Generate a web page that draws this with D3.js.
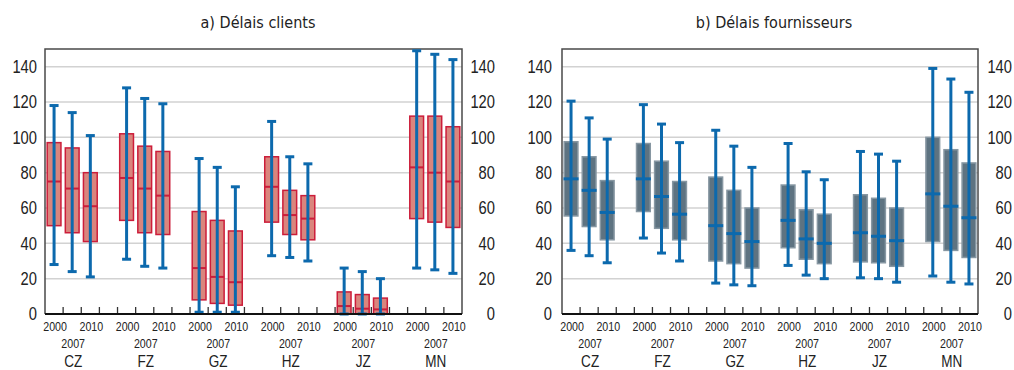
<!DOCTYPE html>
<html>
<head>
<meta charset="utf-8">
<script src="https://d3js.org/d3.v7.min.js"></script>
<style>
	body { margin: 0; background: #fff; }
	svg text { font-family: "Liberation Sans", Arial, sans-serif; fill: #222; }
	svg text.title { font-family: "DejaVu Sans Condensed", "DejaVu Sans", sans-serif; font-stretch: condensed; }
	.grid line { stroke: #d2d2d2; stroke-width: 1.5px; }
	.frame { fill: none; stroke: #4a4a4a; stroke-width: 1.5px; }
</style>
</head>
<body>
<svg width="1014" height="370"></svg>
<script>
var groups = ["CZ", "FZ", "GZ", "HZ", "JZ", "MN"];
var years = ["2000", "2007", "2010"];
var yTicks = [0, 20, 40, 60, 80, 100, 120, 140];

// a) Délais clients : min, 1er quartile, médiane, 3e quartile, max
var clientsLow  = [28, 24, 21,  31, 27, 26,  1, 1, 1,  33, 32, 30,  0, 0, 0,  26, 25, 23];
var clientsQ1   = [50, 46, 41,  53, 46, 45,  8, 6, 5,  52, 45, 42,  0, 0, 0,  54, 52, 49];
var clientsMed  = [75, 71, 61,  77, 71, 67,  26, 21, 18,  72, 56, 54,  4.5, 3, 2.6,  83, 80, 75];
var clientsQ3   = [97, 94, 80,  102, 95, 92,  58, 53, 47,  89, 70, 67,  12.5, 11, 9,  112, 112, 106];
var clientsHigh = [118, 114, 101,  128, 122, 119,  88, 83, 72,  109, 89, 85,  26, 24, 20,  149, 147, 144];

// b) Délais fournisseurs
var suppLow  = [36, 33, 29,  43, 34.5, 30,  17.5, 16.5, 16,  27.5, 22, 20,  20.5, 20, 18,  21.5, 18, 17];
var suppQ1   = [55.5, 49.5, 42,  58, 48.5, 42,  30, 28.5, 26,  37.5, 31, 28.5,  29.5, 29, 27,  41, 36, 32];
var suppMed  = [76.5, 70, 57.5,  76.5, 66.5, 56.5,  50, 45.5, 41,  53, 42.5, 40,  46, 44, 41.5,  68, 61, 54.5];
var suppQ3   = [97.5, 89, 75.5,  96.5, 86.5, 75,  77.5, 70, 60,  73, 59, 56.5,  67.5, 65.5, 60,  100, 93, 85.5];
var suppHigh = [120.5, 111, 99,  118.5, 107.5, 97,  104, 95, 83,  96.5, 80.5, 76,  92, 90.5, 86.5,  139, 133, 125.5];

var svg = d3.select("svg");

// slots : 3 années par zone + un vide entre les zones
var slots = [];
groups.forEach(function(g, i) {
	years.forEach(function(y) { slots.push(g + "-" + y); });
	if (i < groups.length - 1) slots.push(g + "-gap");
});

// texte étroit (Arial resserré façon "Narrow")
function narrow(parent, x, y, txt, size, anchor, dy) {
	return parent.append("g")
		.attr("transform", "translate(" + x + "," + y + ") scale(0.82,1)")
		.append("text")
		.attr("text-anchor", anchor || "middle")
		.attr("dy", dy || null)
		.style("font-size", size + "px")
		.text(txt);
}

function panel(opts) {
	var left = opts.left, right = opts.right, top = 49, bottom = 314;
	var x = d3.scaleBand().domain(slots).range([left, right]).padding(0);
	var y = d3.scaleLinear().domain([0, 150]).range([bottom, top]);
	var bw = x.bandwidth() * 0.76;
	var g = svg.append("g");

	// grille
	g.append("g").attr("class", "grid")
		.selectAll("line").data(yTicks.slice(1)).enter().append("line")
		.attr("x1", left).attr("x2", right)
		.attr("y1", function(d) { return y(d); }).attr("y2", function(d) { return y(d); });

	// cadre
	g.append("path").attr("class", "frame")
		.attr("d", "M" + left + "," + bottom + "V" + top + "H" + right + "V" + bottom);

	// petites graduations entre les colonnes
	g.selectAll(".tick").data(slots.slice(1)).enter().append("line")
		.attr("x1", function(d) { return x(d); }).attr("x2", function(d) { return x(d); })
		.attr("y1", bottom).attr("y2", bottom - 7)
		.attr("stroke", "#333").attr("stroke-width", 1.3);

	var data = [];
	groups.forEach(function(gr, i) {
		years.forEach(function(yr, j) {
			var k = i * 3 + j;
			data.push({ key: gr + "-" + yr, low: opts.low[k], q1: opts.q1[k], med: opts.med[k], q3: opts.q3[k], high: opts.high[k] });
		});
	});

	var item = g.selectAll(".item").data(data).enter().append("g")
		.attr("transform", function(d) { return "translate(" + (x(d.key) + x.bandwidth() / 2) + ",0)"; });

	item.append("rect")
		.attr("x", -bw / 2).attr("width", bw)
		.attr("y", function(d) { return y(d.q3); })
		.attr("height", function(d) { return y(d.q1) - y(d.q3); })
		.attr("fill", opts.boxFill).attr("stroke", opts.boxStroke).attr("stroke-width", 1.5);

	function median(sel) {
		sel.append("line")
			.attr("x1", -opts.medW / 2).attr("x2", opts.medW / 2)
			.attr("y1", function(d) { return y(d.med); }).attr("y2", function(d) { return y(d.med); })
			.attr("stroke", opts.medColor).attr("stroke-width", opts.medWidth);
	}
	if (!opts.medianOnTop) median(item);

	var blue = "#0c69ad";
	item.append("line")
		.attr("y1", function(d) { return y(d.low); }).attr("y2", function(d) { return y(d.high); })
		.attr("stroke", blue).attr("stroke-width", 3);
	["low", "high"].forEach(function(f) {
		item.append("line")
			.attr("x1", -4.5).attr("x2", 4.5)
			.attr("y1", function(d) { return y(d[f]); }).attr("y2", function(d) { return y(d[f]); })
			.attr("stroke", blue).attr("stroke-width", 3);
	});
	if (opts.medianOnTop) median(item);

	// axe du bas
	g.append("line").attr("x1", left).attr("x2", right).attr("y1", bottom).attr("y2", bottom)
		.attr("stroke", "#111").attr("stroke-width", 2);

	// étiquettes verticales des deux côtés
	[opts.leftLabelX, opts.rightLabelX].forEach(function(lx) {
		yTicks.forEach(function(d) {
			narrow(g, lx, y(d), d, 18, "end", "0.36em");
		});
	});

	// étiquettes horizontales
	groups.forEach(function(gr) {
		var c = function(yr) { return x(gr + "-" + yr) + x.bandwidth() / 2 + 1; };
		narrow(g, c("2000"), 330.5, "2000", 13);
		narrow(g, c("2010"), 330.5, "2010", 13);
		narrow(g, c("2007"), 347.5, "2007", 13);
		narrow(g, c("2007"), 366.5, gr, 16.5);
	});

	g.append("text").attr("class", "title")
		.attr("x", opts.titleX).attr("y", 28).attr("text-anchor", "middle")
		.style("font-size", "16px").text(opts.title);
}

panel({
	left: 45, right: 462, leftLabelX: 37, rightLabelX: 495, titleX: 258,
	title: "a) Délais clients",
	low: clientsLow, q1: clientsQ1, med: clientsMed, q3: clientsQ3, high: clientsHigh,
	boxFill: "#da857d", boxStroke: "#cc1d3a", medColor: "#cc1d3a", medWidth: 2, medW: 13.8, medianOnTop: false
});

panel({
	left: 562, right: 978, leftLabelX: 552, rightLabelX: 1012, titleX: 774,
	title: "b) Délais fournisseurs",
	low: suppLow, q1: suppQ1, med: suppMed, q3: suppQ3, high: suppHigh,
	boxFill: "#5e7381", boxStroke: "#8797a2", medColor: "#0c69ad", medWidth: 3, medW: 15, medianOnTop: true
});
</script>
</body>
</html>
